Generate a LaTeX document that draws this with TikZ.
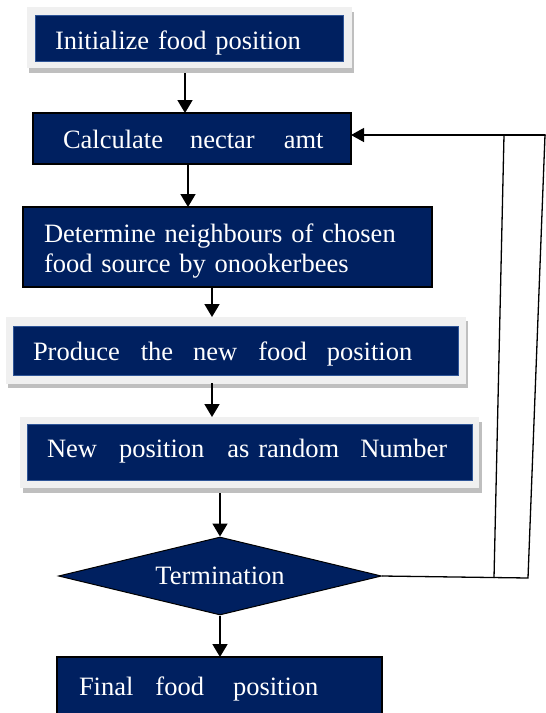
\documentclass[tikz,border=0pt]{standalone}
\usepackage{fontspec}
\setmainfont{Liberation Serif}
\usepackage{xcolor}
\usepackage{tikz}
\usetikzlibrary{positioning, shapes.geometric, arrows.meta, calc}

\definecolor{navyblue}{HTML}{002060}
\definecolor{edgeblue}{HTML}{2F5597}
\definecolor{framegray}{HTML}{F0F0F0}
\definecolor{shadowgray}{HTML}{BFBFBF}
\newcommand{\boxfont}{\fontsize{26.5}{30}\selectfont}

\tikzset{
  box/.style={anchor=north west, fill=navyblue, text=white, font=\boxfont, align=left, inner ysep=0pt, outer sep=0pt},
  plainbox/.style={box, draw=black, line width=1.2pt},
  framedbox/.style={box, draw=edgeblue, line width=0.5pt},
  decision/.style={diamond, aspect=4.14, draw=black, line width=1pt, fill=navyblue, text=white, font=\boxfont, minimum width=323pt, minimum height=78pt, inner sep=0pt},
  arr/.style={line width=1.8pt, -{Triangle[length=13pt,width=15pt]}},
  loopline/.style={line width=1.3pt}
}

\begin{document}
\begin{tikzpicture}[x=1pt, y=-1pt]
  \clip (0,0) rectangle (546,713);

  % Light frames with shadow
  \foreach \xa/\ya/\xb/\yb/\dx/\dy in {27/7/352/68/2/5, 6/317/466/384/2/4, 20/417/479/488/3/5}{
    \fill[shadowgray] (\xa+\dx,\ya+\dy) rectangle (\xb+\dx,\yb+\dy);
    \fill[framegray] (\xa,\ya) rectangle (\xb,\yb);
  }

  % Steps
  \node[framedbox, inner xsep=20pt, text width=268pt, text height=34pt, text depth=12pt] (init) at (35,15) {Initialize food position};
  \node[plainbox, inner xsep=30pt, text width=258pt, text height=35pt, text depth=16pt] (nectar) at (33,113) {\mbox{Calculate\hspace{27pt}nectar\hspace{29pt}amt}};
  \node[plainbox, inner xsep=21pt, text width=367pt, text height=35pt, text depth=45pt] (neigh) at (23,207) {Determine neighbours of chosen\\food source by onookerbees};
  \node[framedbox, inner xsep=20pt, text width=405pt, text height=34pt, text depth=15pt] (produce) at (13,326) {Produce\hspace{21pt}the\hspace{20pt}new\hspace{21pt}food\hspace{20pt}position};
  \node[framedbox, inner xsep=20pt, text width=405pt, text height=33pt, text depth=23pt] (random) at (27,424) {New\hspace{22pt}position\hspace{23pt}as random\hspace{21pt}Number};
  \node[decision] (term) at (220,576) {Termination};
  \node[plainbox, inner xsep=22pt, text width=281pt, text height=38pt, text depth=60pt] (final) at (57,657) {Final\hspace{22pt}food\hspace{29pt}position};

  % Down arrows
  \draw[arr] ($(init.south)+(-4,12)$) -- ($(init.south |- nectar.north)+(-4,0)$);
  \draw[arr] ($(nectar.south)+(-4,0)$) -- ($(nectar.south |- neigh.north)+(-4,0)$);
  \draw[arr] ($(neigh.south)+(-15.5,0)$) -- ($(neigh.south |- produce.north)+(-15.5,-9)$);
  \draw[arr] ($(produce.south)+(-23.5,8)$) -- ($(produce.south |- random.north)+(-23.5,-7)$);
  \draw[arr] ($(random.south -| term.north)+(0,13)$) -- (term.north);
  \draw[arr] (term.south) -- (term.south |- final.north);

  % Loop back
  \coordinate (inA) at (494,578);
  \coordinate (inB) at (504,135);
  \coordinate (outA) at (528,578);
  \coordinate (outB) at (545,135);
  \draw[loopline] (term.east) -- (outA) -- (outB) -- (550,135);
  \draw[loopline] (inA) -- (inB);
  \draw[loopline, -{Triangle[length=13pt,width=14pt]}] (outB) -- ($(nectar.east)+(0,-3.5)$);
\end{tikzpicture}
\end{document}
